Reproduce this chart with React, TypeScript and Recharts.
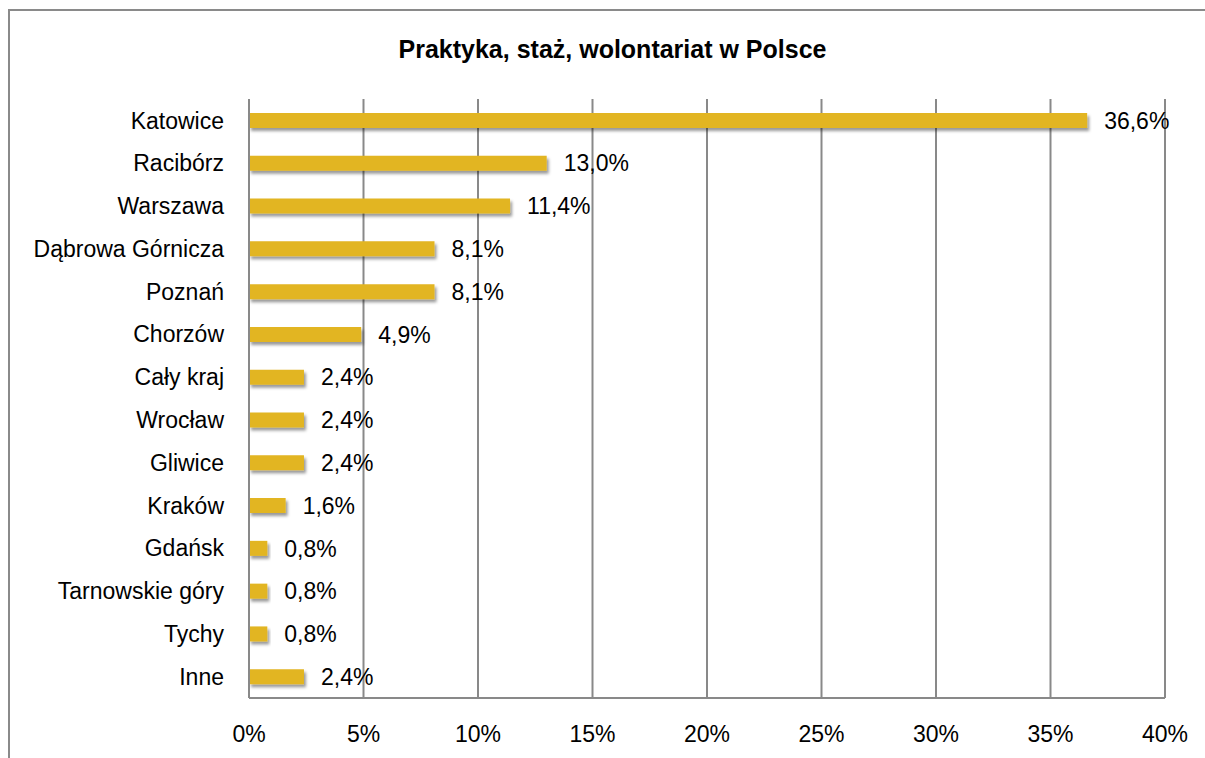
import { BarChart, Bar, XAxis, YAxis, CartesianGrid, LabelList } from 'recharts';

const cities = [
  'Katowice', 'Racibórz', 'Warszawa', 'Dąbrowa Górnicza', 'Poznań', 'Chorzów', 'Cały kraj',
  'Wrocław', 'Gliwice', 'Kraków', 'Gdańsk', 'Tarnowskie góry', 'Tychy', 'Inne',
];
const shares = [36.6, 13.0, 11.4, 8.1, 8.1, 4.9, 2.4, 2.4, 2.4, 1.6, 0.8, 0.8, 0.8, 2.4];
const xTicks = [0, 5, 10, 15, 20, 25, 30, 35, 40];

const data = cities.map((name, i) => ({ name, value: shares[i] }));

const FONT = '"Liberation Sans", Arial, sans-serif';
const GRID = '#898989';
const GOLD = '#E2B520';

const fmt = (v: any) => `${Number(v).toFixed(1).replace('.', ',')}%`;

export default function App() {
  return (
    <div style={{ position: 'absolute', left: 0, top: 0, width: 1205, height: 758, overflow: 'hidden', background: '#fff', fontFamily: FONT }}>
      <div style={{ position: 'absolute', left: 8, top: 9, width: 1220, height: 780, border: '2px solid #8a8a8a' }} />
      <div style={{ position: 'absolute', left: 0, width: 1225, top: 35, textAlign: 'center', fontWeight: 'bold', fontSize: 25, color: '#000' }}>
        Praktyka, staż, wolontariat w Polsce
      </div>
      <div style={{ position: 'absolute', left: 0, top: 0 }}>
        <BarChart
          width={1205}
          height={758}
          data={data}
          layout="vertical"
          margin={{ top: 99, right: 40, bottom: 20, left: 0 }}
          barCategoryGap={0}
        >
          <defs>
            <filter id="shadow" x="-5%" y="-50%" width="120%" height="250%">
              <feDropShadow dx="2" dy="3" stdDeviation="1.5" floodColor="#000" floodOpacity="0.4" />
            </filter>
          </defs>
          <CartesianGrid horizontal={false} stroke={GRID} strokeWidth={2} />
          <XAxis
            type="number"
            domain={[0, 40]}
            ticks={xTicks}
            tickFormatter={(v) => `${v}%`}
            stroke={GRID}
            strokeWidth={2}
            height={40}
            tickLine={false}
            tickSize={0}
            tickMargin={28}
            tick={{ fontSize: 23, fill: '#000', fontFamily: FONT }}
          />
          <YAxis
            type="category"
            dataKey="name"
            width={249}
            stroke={GRID}
            strokeWidth={2}
            tickLine={false}
            tickSize={0}
            tickMargin={25}
            interval={0}
            tick={{ fontSize: 23, fill: '#000', fontFamily: FONT }}
          />
          <Bar
            dataKey="value"
            fill={GOLD}
            barSize={15}
            isAnimationActive={false}
            style={{ filter: 'url(#shadow)' }}
          >
            <LabelList
              dataKey="value"
              position="right"
              offset={17}
              formatter={fmt}
              style={{ fontSize: 23, fill: '#000', fontFamily: FONT }}
            />
          </Bar>
        </BarChart>
      </div>
    </div>
  );
}
